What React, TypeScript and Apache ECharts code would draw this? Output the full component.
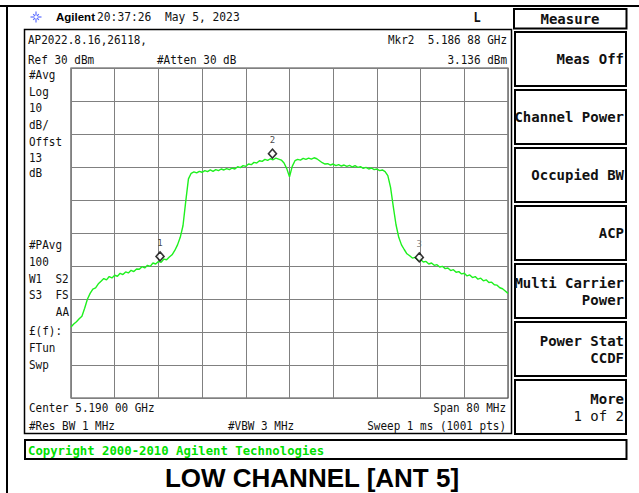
import React, { useEffect, useRef } from "react";
import * as echarts from "echarts";

// Spectrum trace: offset from center (5.190 GHz) in MHz, 0.5 MHz steps, level in dBm
const TRACE_START_MHZ = -40;
const TRACE_STEP_MHZ = 0.5;
const traceDbm = [
  -48.5, -47.6, -46.9, -46.0, -45.2, -42.8, -40.1, -38.3, -37.0, -36.6,
  -35.4, -34.6, -33.8, -34.2, -33.2, -33.6, -32.8, -33.1, -32.2, -32.6,
  -31.8, -32.1, -31.3, -31.7, -30.9, -31.0, -30.2, -30.6, -29.8, -30.1,
  -29.1, -29.4, -28.6, -28.9, -27.9, -28.1, -27.3, -26.6, -25.3, -23.6,
  -21.3, -17.8, -10.5, -3.6, -1.9, -1.5, -1.8, -1.3, -1.6, -1.1,
  -1.4, -0.9, -1.3, -0.8, -1.1, -0.6, -0.9, -0.5, -0.8, -0.3,
  -0.6, 0.1, -0.2, 0.4, 0.2, 0.9, 0.7, 1.4, 1.2, 1.9,
  1.7, 2.3, 2.0, 2.5, 2.2, 2.7, 2.4, 2.1, 1.2, -0.5,
  -3.0, 0.2, 1.9, 2.3, 2.1, 2.6, 2.3, 2.7, 2.4, 2.8,
  2.5, 1.9, 1.3, 0.9, 1.0, 0.6, 0.9, 0.4, 0.7, 0.3,
  0.6, 0.2, 0.5, 0.0, 0.4, -0.1, 0.1, -0.4, -0.1, -0.6,
  -0.3, -0.8, -0.6, -1.1, -0.9, -1.4, -2.6, -6.2, -12.0, -17.5,
  -21.3, -23.6, -25.0, -26.3, -26.9, -27.6, -27.4, -28.2, -28.0, -28.8,
  -28.6, -29.4, -29.1, -29.8, -29.6, -30.3, -30.1, -30.8, -30.6, -31.4,
  -31.1, -31.9, -31.7, -32.4, -32.2, -33.0, -32.7, -33.5, -33.2, -34.0,
  -33.7, -34.5, -34.2, -35.0, -34.9, -35.7, -35.8, -36.6, -36.9, -37.6,
  -38.3,
];

// Markers
const markerNames = ["1", "2", "3"];
const markerOffsetsMHz = [-23.7, -3.12, 23.76];
const markerLevelsDbm = [-28.0, 3.136, -28.3];
const markerLabelColors = ["#111", "#111", "#666"];

// Axis setup: span 80 MHz, 10 div; ref 30 dBm, 10 dB/div
const xMin = -40;
const xMax = 40;
const xDiv = 8;
const yMin = -70;
const yMax = 30;
const yDiv = 10;

// Annotation texts
const leftLabels = [
  { t: "#Avg", y: 75 },
  { t: "Log", y: 92 },
  { t: "10", y: 108 },
  { t: "dB/", y: 125 },
  { t: "Offst", y: 142 },
  { t: "13", y: 158 },
  { t: "dB", y: 173 },
  { t: "#PAvg", y: 245 },
  { t: "100", y: 262 },
  { t: "W1  S2", y: 279 },
  { t: "S3  FS", y: 295 },
  { t: "£(f):", y: 331 },
  { t: "FTun", y: 348 },
  { t: "Swp", y: 365 },
];

const softkeys = [
  { lines: ["Meas Off"], bold: [true] },
  { lines: ["Channel Power"], bold: [true] },
  { lines: ["Occupied BW"], bold: [true] },
  { lines: ["ACP"], bold: [true] },
  { lines: ["Multi Carrier", "Power"], bold: [true, true] },
  { lines: ["Power Stat", "CCDF"], bold: [true, true] },
  { lines: ["More", "1 of 2"], bold: [true, false] },
];

const MONO = "'DejaVu Sans Mono', 'Liberation Mono', monospace";
const SANS = "'Liberation Sans', Arial, sans-serif";

function txt(text: string, x: number, y: number, o: any = {}) {
  const align = o.align || "left";
  return {
    type: "text",
    x,
    y,
    z: 10,
    scaleY: o.scaleY ?? 1.12,
    style: {
      text,
      font: o.font || `11px ${MONO}`,
      fill: o.fill || "#111",
      textAlign: align,
      align,
      textVerticalAlign: "middle",
      verticalAlign: "middle",
    },
  };
}

function rect(x: number, y: number, w: number, h: number, lw = 2) {
  return {
    type: "rect",
    z: 8,
    shape: { x, y, width: w, height: h },
    style: { fill: "none", stroke: "#000", lineWidth: lw },
  };
}

function line(x1: number, y1: number, x2: number, y2: number, lw = 2, color = "#000") {
  return {
    type: "line",
    z: 8,
    shape: { x1, y1, x2, y2 },
    style: { stroke: color, lineWidth: lw },
  };
}

export default function App() {
  const ref = useRef<HTMLDivElement>(null);

  useEffect(() => {
    document.body.style.margin = "0";
    if (!ref.current) return;
    const chart = echarts.init(ref.current, null, { renderer: "svg" });

    const traceData = traceDbm.map((v, i) => [TRACE_START_MHZ + i * TRACE_STEP_MHZ, v]);
    const markerData = markerNames.map((n, i) => ({
      name: n,
      value: [markerOffsetsMHz[i], markerLevelsDbm[i]],
      label: { color: markerLabelColors[i] },
    }));

    const graphic: any[] = [];
    // outer page lines
    graphic.push(line(0, 6, 639, 6, 2));
    graphic.push(line(7, 6, 7, 493, 2));
    // screen box
    graphic.push(rect(24.5, 29.5, 487, 404, 1.5));
    // copyright box
    graphic.push(rect(25, 440, 601.5, 19, 2));
    graphic.push(
      txt("Copyright 2000-2010 Agilent Technologies", 28, 450, {
        font: `bold 12.3px ${MONO}`,
        fill: "#00e000",
        scaleY: 1.05,
      })
    );
    // title
    graphic.push(
      txt("LOW CHANNEL [ANT 5]", 312, 478, {
        font: `bold 26px ${SANS}`,
        align: "center",
        scaleY: 1,
        fill: "#000",
      })
    );
    // header
    const sx = 36, sy = 17;
    for (let k = 0; k < 8; k++) {
      const a = (k * Math.PI) / 4;
      const r1 = 1.5, r2 = k % 2 === 0 ? 5.5 : 4;
      graphic.push(
        line(sx + r1 * Math.cos(a), sy + r1 * Math.sin(a), sx + r2 * Math.cos(a), sy + r2 * Math.sin(a), 1.2, "#5a6cff")
      );
    }
    graphic.push(txt("Agilent", 56, 17, { font: `bold 11.5px ${SANS}`, scaleY: 1, fill: "#000" }));
    graphic.push(txt("20:37:26  May 5, 2023", 97, 17, { font: `11.3px ${MONO}` }));
    graphic.push(txt("L", 477, 17, { font: `bold 12px ${MONO}`, align: "center" }));
    // screen texts
    graphic.push(txt("AP2022.8.16,26118,", 28, 40));
    graphic.push(txt("Ref 30 dBm", 28, 60));
    graphic.push(txt("#Atten 30 dB", 157, 60));
    graphic.push(txt("Mkr2  5.186 88 GHz", 507, 40, { align: "right" }));
    graphic.push(txt("3.136 dBm", 507, 60, { align: "right" }));
    leftLabels.forEach((l) => graphic.push(txt(l.t, 29, l.y)));
    graphic.push(txt("AA", 69, 312, { align: "right" }));
    graphic.push(txt("Center 5.190 00 GHz", 29, 408));
    graphic.push(txt("Span 80 MHz", 506, 408, { align: "right" }));
    graphic.push(txt("#Res BW 1 MHz", 29, 426));
    graphic.push(txt("#VBW 3 MHz", 228, 426));
    graphic.push(txt("Sweep 1 ms (1001 pts)", 506, 426, { align: "right" }));
    // softkey panel
    graphic.push(rect(514, 9, 112.5, 19.5, 2));
    graphic.push(txt("Measure", 570, 18.5, { font: `bold 14px ${MONO}`, align: "center", scaleY: 1 }));
    softkeys.forEach((sk, i) => {
      const top = 32 + i * 58;
      graphic.push(rect(515, top, 111, 54, 2));
      const n = sk.lines.length;
      sk.lines.forEach((ln, j) => {
        const cy = n === 1 ? top + 27 : top + 19 + j * 16.5;
        graphic.push(
          txt(ln, 624, cy, {
            font: `${sk.bold[j] ? "bold " : ""}14px ${MONO}`,
            align: "right",
            scaleY: 1,
          })
        );
      });
    });

    chart.setOption({
      animation: false,
      backgroundColor: "#ffffff",
      grid: {
        left: 71,
        top: 68,
        width: 437,
        height: 330,
        show: true,
        borderColor: "#4a4a4a",
        borderWidth: 1.2,
      },
      xAxis: {
        type: "value",
        min: xMin,
        max: xMax,
        interval: xDiv,
        axisLabel: { show: false },
        axisTick: { show: false },
        axisLine: { show: false },
        splitLine: { show: true, lineStyle: { color: "#808080", width: 1 } },
      },
      yAxis: {
        type: "value",
        min: yMin,
        max: yMax,
        interval: yDiv,
        axisLabel: { show: false },
        axisTick: { show: false },
        axisLine: { show: false },
        splitLine: { show: true, lineStyle: { color: "#808080", width: 1 } },
      },
      series: [
        {
          type: "line",
          data: traceData,
          symbol: "none",
          showSymbol: false,
          lineStyle: { color: "#1ef01e", width: 1.4 },
          z: 3,
        },
        {
          type: "scatter",
          data: markerData,
          symbol: "diamond",
          symbolSize: [8, 9],
          symbolOffset: [0, -3],
          itemStyle: { color: "#ffffff", borderColor: "#000", borderWidth: 1.6 },
          label: {
            show: true,
            position: "top",
            distance: 4,
            formatter: "{b}",
            fontSize: 9,
            fontFamily: MONO,
          },
          z: 5,
        },
      ],
      graphic,
    });

    return () => chart.dispose();
  }, []);

  return (
    <div
      ref={ref}
      style={{ position: "absolute", left: 0, top: 0, width: 639, height: 493 }}
    />
  );
}
